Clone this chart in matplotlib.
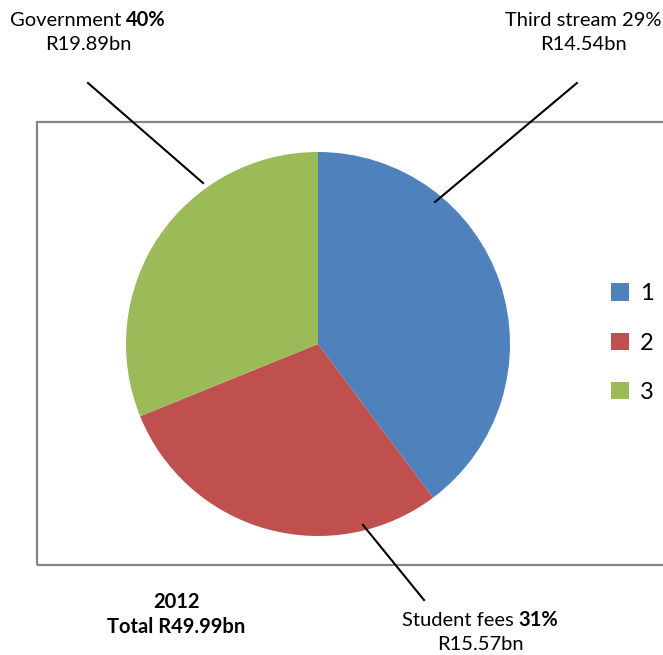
import matplotlib
matplotlib.use("Agg")
import matplotlib.pyplot as plt
from matplotlib.patches import Rectangle

plt.rcParams['font.family'] = ['Lato', 'DejaVu Sans']

# slice values (bn Rand) in legend order 1, 2, 3
values = [19.89, 14.54, 15.57]
legend_labels = ['1', '2', '3']
colors = ['#4F81BD', '#C0504D', '#9BBB59']

# callout texts as in the source
callouts = [
    # (normal part, bold part, amount, text centre x/y in px, leader line in px)
    ('Government ', '40%', 'R19.89bn', (88, 20), ((88, 83), (203, 183))),
    ('Third stream 29%', '', 'R14.54bn', (583, 20), ((577, 83), (435, 202))),
    ('Student fees ', '31%', 'R15.57bn', (480, 620), ((424, 600), (363, 525))),
]
year = '2012'
total = 'Total R49.99bn'

W, H = 663, 655
fig = plt.figure(figsize=(W / 100, H / 100), dpi=100)
ax = fig.add_axes([0, 0, 1, 1])
ax.set_xlim(0, W)
ax.set_ylim(0, H)
ax.axis('off')

def py(y):
    return H - y

# grey plot-area frame
ax.add_patch(Rectangle((37, py(565)), 700, 443, fill=False,
                       edgecolor='#868686', lw=1.6, clip_on=False))

wedges, _ = ax.pie(values, colors=colors, startangle=90, counterclock=False,
                   center=(318, py(344)), radius=192, frame=True)
ax.set_xlim(0, W)
ax.set_ylim(0, H)
ax.set_aspect('equal')
ax.axis('off')

fs = 14.5
fig.canvas.draw()
r = fig.canvas.get_renderer()
for normal, bold, amount, (cx, cy), (p0, p1) in callouts:
    ax.plot([p0[0], p1[0]], [py(p0[1]), py(p1[1])], color='black', lw=1.5)
    t1 = ax.text(0, py(cy), normal, fontsize=fs, va='center', ha='left')
    t2 = ax.text(0, py(cy), bold, fontsize=fs, va='center', ha='left',
                 fontweight='bold')
    w1 = t1.get_window_extent(r).width
    w2 = t2.get_window_extent(r).width if bold else 0
    left = cx - (w1 + w2) / 2
    t1.set_x(left)
    t2.set_x(left + w1)
    ax.text(cx, py(cy + 25), amount, fontsize=fs, va='center', ha='center')

ax.text(176, py(602), year, fontsize=fs, va='center', ha='center',
        fontweight='bold')
ax.text(176, py(627), total, fontsize=fs, va='center', ha='center',
        fontweight='bold')

fig.legend(wedges, legend_labels, loc='center left',
           bbox_to_anchor=(599 / W, 1 - 343 / H), frameon=False,
           fontsize=17, handlelength=0.75, handleheight=0.75,
           handletextpad=0.5, labelspacing=1.2, borderpad=0)

fig.savefig('out.png', dpi=100)
